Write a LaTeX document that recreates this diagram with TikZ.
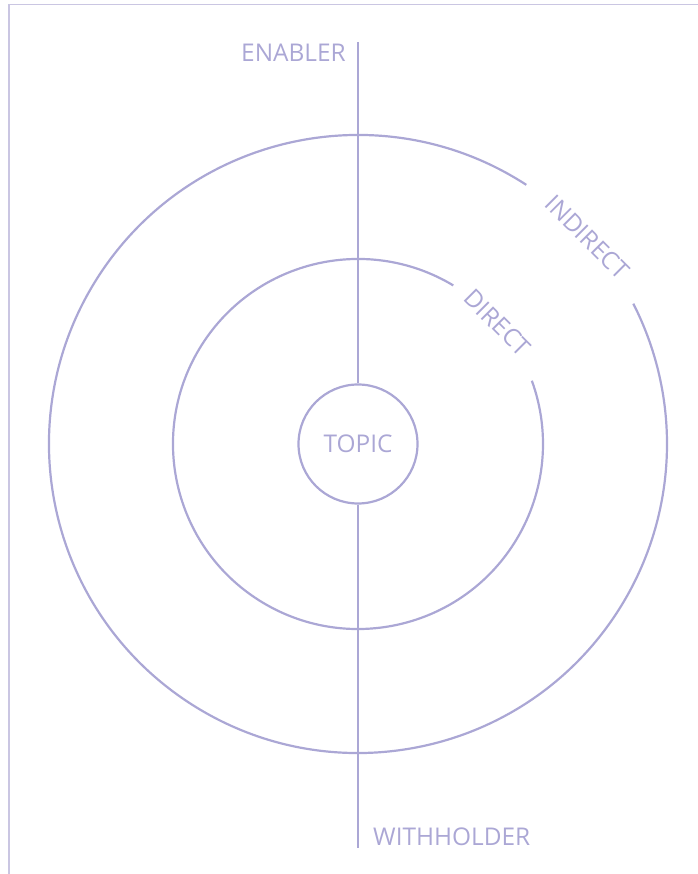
\documentclass[tikz,border=0pt]{standalone}
\usepackage{fontspec}
\setmainfont{Open Sans}
\definecolor{lav}{HTML}{ABA7D5}
\definecolor{framec}{HTML}{CAC6E2}
\begin{document}
\begin{tikzpicture}[x=1bp,y=1bp,
  ring/.style={draw=lav,line width=2.2bp},
  lbl/.style={text=lav,font=\fontsize{24.5}{28}\selectfont,inner sep=0pt}]
\useasboundingbox (0,0) rectangle (698,874);
\coordinate (c) at (358,430);
% frame
\coordinate (fbl) at (9,0);
\coordinate (ftl) at (9,869.5);
\coordinate (ftr) at (698,869.5);
\draw[framec,line width=1.6bp] (fbl) -- (ftl) -- (ftr);
% circles
\draw[ring] ([shift={(57:309)}]c) arc[start angle=57,end angle=387,radius=309];
\draw[ring] ([shift={(59:185)}]c) arc[start angle=59,end angle=380,radius=185];
\node[ring,circle,minimum size=119bp,inner sep=0pt] (topic) at (c) {};
\node[lbl] (topiclbl) at (c) {TOPIC};
% axis
\coordinate (atop) at (358,832);
\coordinate (abot) at (358,26);
\draw[ring] (atop) -- (topic.north);
\draw[ring] (topic.south) -- (abot);
% labels
\node[lbl,anchor=base east] (enabler) at (346,812) {ENABLER};
\node[lbl,anchor=base west] (withholder) at (373,28) {WITHHOLDER};
\node[lbl,rotate=-45] (indirect) at ([shift={(42:309)}]c) {INDIRECT};
\node[lbl,rotate=-45] (direct) at ([shift={(41:185)}]c) {DIRECT};
\end{tikzpicture}
\end{document}
